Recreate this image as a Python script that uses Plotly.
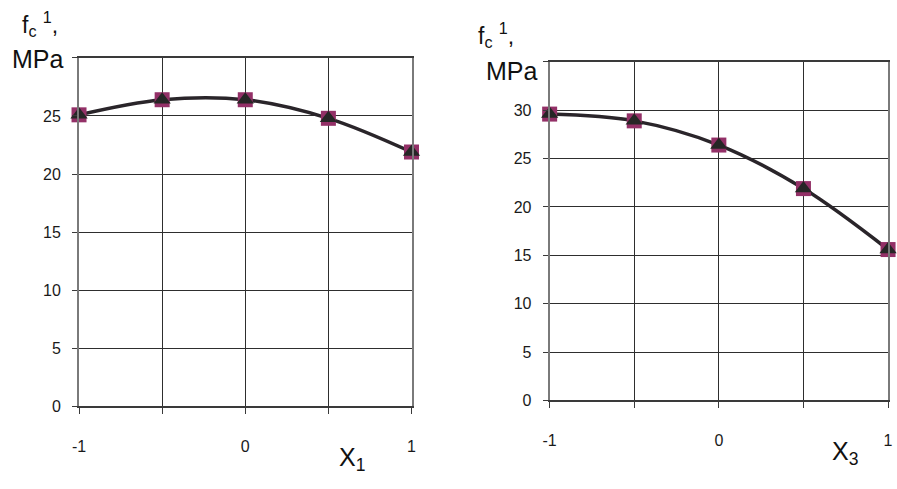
import plotly.graph_objects as go

x_levels = [-1, -0.5, 0, 0.5, 1]
x_ticktext = ["-1", "", "0", "", "1"]
fc_x1 = [25.1, 26.4, 26.4, 24.8, 21.9]
fc_x3 = [29.6, 28.9, 26.4, 21.9, 15.6]

y1_ticks = [0, 5, 10, 15, 20, 25, 30]
y1_text = ["0", "5", "10", "15", "20", "25", ""]
y2_ticks = [0, 5, 10, 15, 20, 25, 30, 35]
y2_text = ["0", "5", "10", "15", "20", "25", "30", ""]

LINE = "#2a252a"
SQ = "#933067"
TRI = "#262626"
GRID = "#2e2e2e"

fig = go.Figure()
for xs, ys, xa, ya in [(x_levels, fc_x1, "x", "y"), (x_levels, fc_x3, "x2", "y2")]:
    fig.add_trace(go.Scatter(x=xs, y=ys, xaxis=xa, yaxis=ya, mode="lines+markers",
                             line=dict(color=LINE, width=3.5, shape="spline", smoothing=1),
                             marker=dict(symbol="square", size=15, color=SQ),
                             showlegend=False, cliponaxis=False))
    fig.add_trace(go.Scatter(x=xs, y=ys, xaxis=xa, yaxis=ya, mode="markers",
                             marker=dict(symbol="triangle-up", size=15, color=TRI),
                             showlegend=False, cliponaxis=False))

tickfont = dict(family="Liberation Sans Narrow, Liberation Sans", size=16, color="#1a1a1a")

def xax(domain, anchor):
    return dict(domain=domain, anchor=anchor, range=[-1, 1], tickvals=x_levels, ticktext=x_ticktext,
                showgrid=True, gridcolor=GRID, gridwidth=1.3, zeroline=False,
                showline=True, linecolor="#3a3a3a", linewidth=2, mirror=True,
                ticks="outside", ticklen=6, tickcolor="#3a3a3a", tickwidth=1.3,
                tickfont=tickfont, ticklabelstandoff=18, fixedrange=True)

def yax(domain, anchor, rng, tv, tt):
    return dict(domain=domain, anchor=anchor, range=rng, tickvals=tv, ticktext=tt,
                showgrid=True, gridcolor=GRID, gridwidth=1.3, zeroline=False,
                showline=True, linecolor="#7a7a7a", linewidth=2, mirror=True,
                ticks="outside", ticklen=5, tickcolor="#3a3a3a", tickwidth=1.3,
                tickfont=tickfont, ticklabelstandoff=8, fixedrange=True)

H = 489
fig.update_layout(
    width=897, height=489,
    margin=dict(l=0, r=0, t=0, b=0),
    paper_bgcolor="white", plot_bgcolor="white",
    xaxis=xax([73/897, 410/897], "y"),
    yaxis=yax([1-414/H, 1-59/H], "x", [0, 30], y1_ticks, y1_text),
    xaxis2=xax([550/897, 893/897], "y2"),
    yaxis2=yax([1-408/H, 1-63/H], "x2", [0, 35], y2_ticks, y2_text),
)

lab = dict(family="Liberation Sans", size=25, color="#111")
fsmall = dict(family="Liberation Sans", size=23, color="#111")
ann = [
    (33, 24, "f<sub>c</sub> <sup>1</sup>,", fsmall),
    (31, 60, "MPa", lab),
    (496, 36, "f<sub>c</sub> <sup>1</sup>,", fsmall),
    (512, 72, "MPa", lab),
    (350, 468, "X<sub>1</sub>", lab),
    (849, 461, "X<sub>3</sub>", lab),
]
for x, y, t, f in ann:
    fig.add_annotation(x=x/897, y=1-y/H, xref="paper", yref="paper", text=t,
                       showarrow=False, font=f, xanchor="center", yanchor="middle")

fig.write_html("out.html")
